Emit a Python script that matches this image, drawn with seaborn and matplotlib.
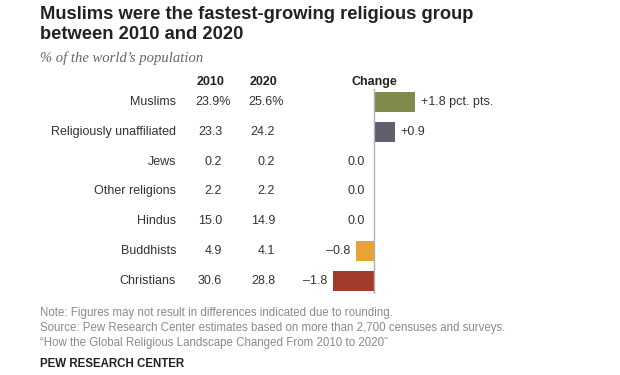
import matplotlib
matplotlib.use('Agg')
import matplotlib.pyplot as plt
import matplotlib.transforms as mtransforms
import seaborn as sns

religions = ['Muslims', 'Religiously unaffiliated', 'Jews', 'Other religions',
             'Hindus', 'Buddhists', 'Christians']
pct_2010 = ['23.9', '23.3', '0.2', '2.2', '15.0', '4.9', '30.6']
pct_2020 = ['25.6', '24.2', '0.2', '2.2', '14.9', '4.1', '28.8']
change = [1.8, 0.9, 0.0, 0.0, 0.0, -0.8, -1.8]
change_labels = ['+1.8 pct. pts.', '+0.9', '0.0', '0.0', '0.0', '\u20130.8', '\u20131.8']
bar_colors = ['#7f8b4b', '#625e6d', '#ffffff', '#ffffff', '#ffffff', '#e9a235', '#a33b2a']

sns.set_style('white')
plt.rcParams['font.family'] = ['Liberation Sans', 'DejaVu Sans']

W, H = 620, 375
fs = 9
fig = plt.figure(figsize=(W / 100, H / 100), dpi=100)

# axes for the change bars, placed in pixel terms
row0, step = 102, 29.8
top = row0 - step / 2
ax = fig.add_axes([300 / W, 1 - (top + 7 * step) / H, 200 / W, 7 * step / H])
sns.barplot(x=change, y=religions, hue=religions, palette=bar_colors, legend=False,
            orient='h', width=0.66, saturation=1, ax=ax, edgecolor='none')
px = 22.8  # pixels per pct. pt.
ax.set_xlim((300 - 374) / px, (500 - 374) / px)
ax.set_ylim(6.5, -0.5)
ax.axis('off')
ax.plot([0, 0], [-0.42, 6.42], color='#b0b0b0', lw=1, zorder=5)

gap = 6 / px
for i, (v, lab) in enumerate(zip(change, change_labels)):
    if v > 0:
        ax.text(v + gap, i, lab, ha='left', va='center', fontsize=fs, color='#333333')
    elif v < 0:
        ax.text(v - gap, i, lab, ha='right', va='center', fontsize=fs, color='#333333')
    else:
        ax.text(-9 / px, i, lab, ha='right', va='center', fontsize=fs, color='#333333')

# table columns: x in figure pixels, y in data rows
# first row carries the % sign, which hangs past the column edge
tr = mtransforms.blended_transform_factory(fig.transFigure, ax.transData)
for i, name in enumerate(religions):
    sfx, shift = ('%', 9) if i == 0 else ('', 0)
    ax.text(176 / W, i, name, transform=tr, ha='right', va='center', fontsize=fs, color='#333333')
    ax.text((222 + shift) / W, i, pct_2010[i] + sfx, transform=tr, ha='right', va='center',
            fontsize=fs, color='#333333')
    ax.text((275 + shift) / W, i, pct_2020[i] + sfx, transform=tr, ha='right', va='center',
            fontsize=fs, color='#333333')

hy = -0.67
ax.text(211 / W, hy, '2010', transform=tr, ha='center', va='center', fontsize=fs, fontweight='bold', color='#222222')
ax.text(263 / W, hy, '2020', transform=tr, ha='center', va='center', fontsize=fs, fontweight='bold', color='#222222')
ax.text(374 / W, hy, 'Change', transform=tr, ha='center', va='center', fontsize=fs, fontweight='bold', color='#222222')

# title block
fig.text(40 / W, 1 - 6 / H, 'Muslims were the fastest-growing religious group\nbetween 2010 and 2020',
         ha='left', va='top', fontsize=13.2, fontweight='bold', color='#222222', linespacing=1.25)
fig.text(40 / W, 1 - 58 / H, '% of the world\u2019s population', ha='left', va='center',
         fontsize=10.5, style='italic', family=['Liberation Serif', 'DejaVu Serif'], color='#666666')

# footer
notes = ['Note: Figures may not result in differences indicated due to rounding.',
         'Source: Pew Research Center estimates based on more than 2,700 censuses and surveys.',
         '\u201cHow the Global Religious Landscape Changed From 2010 to 2020\u201d']
for k, line in enumerate(notes):
    fig.text(40 / W, 1 - (313 + 15 * k) / H, line, ha='left', va='center', fontsize=8.3, color='#8a8a8a')
fig.text(40 / W, 1 - 364 / H, 'PEW RESEARCH CENTER', ha='left', va='center', fontsize=8.3,
         fontweight='bold', color='#222222')

fig.savefig('out.png', dpi=100, facecolor='white')
